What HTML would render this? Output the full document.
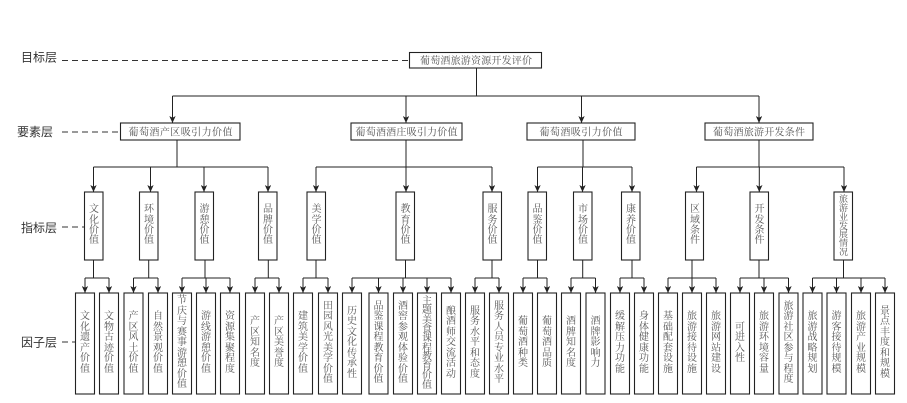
<!DOCTYPE html>
<html><head><meta charset="utf-8">
<style>
html,body{margin:0;padding:0;background:#fff;}
#c{position:relative;width:907px;height:403px;overflow:hidden;background:#fff;}
svg{position:absolute;left:0;top:0;}
.v{position:absolute;display:flex;align-items:center;justify-content:center;font-family:"Liberation Serif","Noto Serif CJK SC",serif;font-size:10px;color:#555;}
.v span{display:block;width:11px;word-break:break-all;text-align:center;line-height:10.5px;}
.f{top:293px;height:101px;width:19px;}
.i{top:192px;height:68px;width:19px;}
.i span{line-height:10.3px;}
</style></head><body>
<div id="c">
<svg width="907" height="403" viewBox="0 0 907 403">
<defs>
<marker id="a" viewBox="0 0 7 6.4" refX="7" refY="3.2" markerWidth="7" markerHeight="6.4" markerUnits="userSpaceOnUse" orient="auto">
<path d="M0,0 L7,3.2 L0,6.4 L1.8,3.2 Z" fill="#222"/>
</marker>
</defs>
<g font-family="'Liberation Sans','Noto Sans CJK SC',sans-serif" font-size="12" fill="#333">
<text x="21" y="61.5">目标层</text>
<text x="17" y="136">要素层</text>
<text x="21" y="232">指标层</text>
<text x="21" y="346.5">因子层</text>
</g>
<g stroke="#333" stroke-width="1" stroke-dasharray="6,4" fill="none">
<line x1="62" y1="60.5" x2="409" y2="60.5"/>
<line x1="62" y1="132" x2="120" y2="132"/>
<line x1="62" y1="227" x2="84" y2="227"/>
<line x1="62" y1="342" x2="75.5" y2="342"/>
</g>
<g stroke="#222" stroke-width="1.1" fill="#fff">
<rect x="409.5" y="52.5" width="132" height="15.5"/>
<rect x="120.5" y="123" width="119.5" height="17"/>
<rect x="351" y="123" width="111" height="17"/>
<rect x="527" y="123" width="108" height="17"/>
<rect x="705" y="123" width="108" height="17"/>
<rect x="84.5" y="192" width="18.5" height="68"/>
<rect x="139.5" y="192" width="18.5" height="68"/>
<rect x="195" y="192" width="18.5" height="68"/>
<rect x="258.5" y="192" width="18.5" height="68"/>
<rect x="307" y="192" width="18.5" height="68"/>
<rect x="396" y="192" width="18.5" height="68"/>
<rect x="483" y="192" width="18.5" height="68"/>
<rect x="528" y="192" width="18.5" height="68"/>
<rect x="573.5" y="192" width="18.5" height="68"/>
<rect x="621.5" y="192" width="18.5" height="68"/>
<rect x="685.5" y="192" width="18" height="68"/>
<rect x="750" y="192" width="18.5" height="68"/>
<rect x="834" y="192" width="18.5" height="68"/>
<rect x="75.5" y="293" width="19" height="101"/>
<rect x="99.5" y="293" width="19" height="101"/>
<rect x="124" y="293" width="19" height="101"/>
<rect x="148.5" y="293" width="19" height="101"/>
<rect x="172.5" y="293" width="19" height="101"/>
<rect x="196.5" y="293" width="19" height="101"/>
<rect x="220.5" y="293" width="19" height="101"/>
<rect x="245.5" y="293" width="19" height="101"/>
<rect x="269.5" y="293" width="19" height="101"/>
<rect x="293.5" y="293" width="19" height="101"/>
<rect x="318.5" y="293" width="19" height="101"/>
<rect x="342.5" y="293" width="19" height="101"/>
<rect x="369" y="293" width="19" height="101"/>
<rect x="393.5" y="293" width="19" height="101"/>
<rect x="417.5" y="293" width="19" height="101"/>
<rect x="441.5" y="293" width="19" height="101"/>
<rect x="465.5" y="293" width="19" height="101"/>
<rect x="489.5" y="293" width="19" height="101"/>
<rect x="513.5" y="293" width="19" height="101"/>
<rect x="537.5" y="293" width="19" height="101"/>
<rect x="561.5" y="293" width="19" height="101"/>
<rect x="586" y="293" width="19" height="101"/>
<rect x="610.5" y="293" width="19" height="101"/>
<rect x="634.5" y="293" width="19" height="101"/>
<rect x="658.5" y="293" width="19" height="101"/>
<rect x="682.5" y="293" width="19" height="101"/>
<rect x="706.5" y="293" width="19" height="101"/>
<rect x="730.5" y="293" width="19" height="101"/>
<rect x="754.5" y="293" width="19" height="101"/>
<rect x="779" y="293" width="19" height="101"/>
<rect x="803" y="293" width="19" height="101"/>
<rect x="827" y="293" width="19" height="101"/>
<rect x="851.5" y="293" width="19" height="101"/>
<rect x="875.5" y="293" width="19" height="101"/>
</g>
<g font-family="'Liberation Serif','Noto Serif CJK SC',serif" font-size="10" fill="#555" text-anchor="middle">
<text x="476" y="64" textLength="112" lengthAdjust="spacing">葡萄酒旅游资源开发评价</text>
<text x="180.5" y="135.5" textLength="104" lengthAdjust="spacing">葡萄酒产区吸引力价值</text>
<text x="406.5" y="135.5" textLength="102" lengthAdjust="spacing">葡萄酒酒庄吸引力价值</text>
<text x="581" y="135.5" textLength="83" lengthAdjust="spacing">葡萄酒吸引力价值</text>
<text x="759" y="135.5" textLength="92" lengthAdjust="spacing">葡萄酒旅游开发条件</text>
</g>
<g stroke="#222" stroke-width="1" fill="none">
<line x1="476.5" y1="68" x2="476.5" y2="96"/>
<line x1="172.5" y1="96" x2="759" y2="96"/>
<line x1="172.5" y1="96" x2="172.5" y2="123" marker-end="url(#a)"/>
<line x1="406" y1="96" x2="406" y2="123" marker-end="url(#a)"/>
<line x1="581.5" y1="96" x2="581.5" y2="123" marker-end="url(#a)"/>
<line x1="759" y1="96" x2="759" y2="123" marker-end="url(#a)"/>
<line x1="177" y1="140" x2="177" y2="167"/>
<line x1="406" y1="140" x2="406" y2="167"/>
<line x1="583" y1="140" x2="583" y2="167"/>
<line x1="759" y1="140" x2="759" y2="167"/>
<line x1="93.5" y1="167" x2="268" y2="167"/>
<line x1="316" y1="167" x2="492" y2="167"/>
<line x1="537.5" y1="167" x2="632" y2="167"/>
<line x1="696.5" y1="167" x2="844" y2="167"/>
<line x1="93.5" y1="167" x2="93.5" y2="192" marker-end="url(#a)"/>
<line x1="150.5" y1="167" x2="150.5" y2="192" marker-end="url(#a)"/>
<line x1="204" y1="167" x2="204" y2="192" marker-end="url(#a)"/>
<line x1="268" y1="167" x2="268" y2="192" marker-end="url(#a)"/>
<line x1="316" y1="167" x2="316" y2="192" marker-end="url(#a)"/>
<line x1="406" y1="167" x2="406" y2="192" marker-end="url(#a)"/>
<line x1="492" y1="167" x2="492" y2="192" marker-end="url(#a)"/>
<line x1="537.5" y1="167" x2="537.5" y2="192" marker-end="url(#a)"/>
<line x1="582.5" y1="167" x2="582.5" y2="192" marker-end="url(#a)"/>
<line x1="632" y1="167" x2="632" y2="192" marker-end="url(#a)"/>
<line x1="696.5" y1="167" x2="696.5" y2="192" marker-end="url(#a)"/>
<line x1="759.3" y1="167" x2="759.3" y2="192" marker-end="url(#a)"/>
<line x1="844" y1="167" x2="844" y2="192" marker-end="url(#a)"/>
<line x1="93.5" y1="260" x2="93.5" y2="278"/>
<line x1="148.7" y1="260" x2="148.7" y2="278"/>
<line x1="205" y1="260" x2="205" y2="278"/>
<line x1="268.3" y1="260" x2="268.3" y2="278"/>
<line x1="316" y1="260" x2="316" y2="278"/>
<line x1="405.5" y1="260" x2="405.5" y2="278"/>
<line x1="492" y1="260" x2="492" y2="278"/>
<line x1="537.5" y1="260" x2="537.5" y2="278"/>
<line x1="582.7" y1="260" x2="582.7" y2="278"/>
<line x1="632" y1="260" x2="632" y2="278"/>
<line x1="692" y1="260" x2="692" y2="278"/>
<line x1="759" y1="260" x2="759" y2="278"/>
<line x1="843.5" y1="260" x2="843.5" y2="278"/>
<line x1="85" y1="278" x2="109" y2="278"/>
<line x1="133.5" y1="278" x2="158" y2="278"/>
<line x1="182" y1="278" x2="230" y2="278"/>
<line x1="255" y1="278" x2="279" y2="278"/>
<line x1="303" y1="278" x2="328" y2="278"/>
<line x1="352" y1="278" x2="451" y2="278"/>
<line x1="475" y1="278" x2="499" y2="278"/>
<line x1="523" y1="278" x2="547" y2="278"/>
<line x1="571" y1="278" x2="595.5" y2="278"/>
<line x1="620" y1="278" x2="644" y2="278"/>
<line x1="668" y1="278" x2="716" y2="278"/>
<line x1="740" y1="278" x2="788.5" y2="278"/>
<line x1="812.5" y1="278" x2="885" y2="278"/>
<line x1="85" y1="278" x2="85" y2="293" marker-end="url(#a)"/>
<line x1="109" y1="278" x2="109" y2="293" marker-end="url(#a)"/>
<line x1="133.5" y1="278" x2="133.5" y2="293" marker-end="url(#a)"/>
<line x1="158" y1="278" x2="158" y2="293" marker-end="url(#a)"/>
<line x1="182" y1="278" x2="182" y2="293" marker-end="url(#a)"/>
<line x1="206" y1="278" x2="206" y2="293" marker-end="url(#a)"/>
<line x1="230" y1="278" x2="230" y2="293" marker-end="url(#a)"/>
<line x1="255" y1="278" x2="255" y2="293" marker-end="url(#a)"/>
<line x1="279" y1="278" x2="279" y2="293" marker-end="url(#a)"/>
<line x1="303" y1="278" x2="303" y2="293" marker-end="url(#a)"/>
<line x1="328" y1="278" x2="328" y2="293" marker-end="url(#a)"/>
<line x1="352" y1="278" x2="352" y2="293" marker-end="url(#a)"/>
<line x1="378.5" y1="278" x2="378.5" y2="293" marker-end="url(#a)"/>
<line x1="403" y1="278" x2="403" y2="293" marker-end="url(#a)"/>
<line x1="427" y1="278" x2="427" y2="293" marker-end="url(#a)"/>
<line x1="451" y1="278" x2="451" y2="293" marker-end="url(#a)"/>
<line x1="475" y1="278" x2="475" y2="293" marker-end="url(#a)"/>
<line x1="499" y1="278" x2="499" y2="293" marker-end="url(#a)"/>
<line x1="523" y1="278" x2="523" y2="293" marker-end="url(#a)"/>
<line x1="547" y1="278" x2="547" y2="293" marker-end="url(#a)"/>
<line x1="571" y1="278" x2="571" y2="293" marker-end="url(#a)"/>
<line x1="595.5" y1="278" x2="595.5" y2="293" marker-end="url(#a)"/>
<line x1="620" y1="278" x2="620" y2="293" marker-end="url(#a)"/>
<line x1="644" y1="278" x2="644" y2="293" marker-end="url(#a)"/>
<line x1="668" y1="278" x2="668" y2="293" marker-end="url(#a)"/>
<line x1="692" y1="278" x2="692" y2="293" marker-end="url(#a)"/>
<line x1="716" y1="278" x2="716" y2="293" marker-end="url(#a)"/>
<line x1="740" y1="278" x2="740" y2="293" marker-end="url(#a)"/>
<line x1="764" y1="278" x2="764" y2="293" marker-end="url(#a)"/>
<line x1="788.5" y1="278" x2="788.5" y2="293" marker-end="url(#a)"/>
<line x1="812.5" y1="278" x2="812.5" y2="293" marker-end="url(#a)"/>
<line x1="836.5" y1="278" x2="836.5" y2="293" marker-end="url(#a)"/>
<line x1="861" y1="278" x2="861" y2="293" marker-end="url(#a)"/>
<line x1="885" y1="278" x2="885" y2="293" marker-end="url(#a)"/>
</g>
</svg>

<div class="v i" style="left:84.5px"><span>文化价值</span></div>
<div class="v i" style="left:139.5px"><span>环境价值</span></div>
<div class="v i" style="left:195px"><span>游憩价值</span></div>
<div class="v i" style="left:258.5px"><span>品牌价值</span></div>
<div class="v i" style="left:307px"><span>美学价值</span></div>
<div class="v i" style="left:396px"><span>教育价值</span></div>
<div class="v i" style="left:483px"><span>服务价值</span></div>
<div class="v i" style="left:528px"><span>品鉴价值</span></div>
<div class="v i" style="left:573.5px"><span>市场价值</span></div>
<div class="v i" style="left:621.5px"><span>康养价值</span></div>
<div class="v i" style="left:685.5px"><span>区域条件</span></div>
<div class="v i" style="left:750px"><span>开发条件</span></div>
<div class="v i" style="left:834px;font-size:9px"><span style="width:10px;line-height:8.8px">旅游业发展情况</span></div>

<div class="v f" style="left:75.5px"><span>文化遗产价值</span></div>
<div class="v f" style="left:99.5px"><span>文物古迹价值</span></div>
<div class="v f" style="left:124px"><span>产区风土价值</span></div>
<div class="v f" style="left:148.5px"><span>自然景观价值</span></div>
<div class="v f" style="left:172.5px"><span>节庆与赛事游憩价值</span></div>
<div class="v f" style="left:196.5px"><span>游线游憩价值</span></div>
<div class="v f" style="left:220.5px"><span>资源集聚程度</span></div>
<div class="v f" style="left:245.5px"><span>产区知名度</span></div>
<div class="v f" style="left:269.5px"><span>产区美誉度</span></div>
<div class="v f" style="left:293.5px"><span>建筑美学价值</span></div>
<div class="v f" style="left:318.5px"><span>田园风光美学价值</span></div>
<div class="v f" style="left:342.5px"><span>历史文化传承性</span></div>
<div class="v f" style="left:369px"><span>品鉴课程教育价值</span></div>
<div class="v f" style="left:393.5px"><span>酒窖参观体验价值</span></div>
<div class="v f" style="left:417.5px"><span style="line-height:9.3px">主题美食课程教育价值</span></div>
<div class="v f" style="left:441.5px"><span>酿酒师交流活动</span></div>
<div class="v f" style="left:465.5px"><span>服务水平和态度</span></div>
<div class="v f" style="left:489.5px"><span>服务人员专业水平</span></div>
<div class="v f" style="left:513.5px"><span>葡萄酒种类</span></div>
<div class="v f" style="left:537.5px"><span>葡萄酒品质</span></div>
<div class="v f" style="left:561.5px"><span>酒牌知名度</span></div>
<div class="v f" style="left:586px"><span>酒牌影响力</span></div>
<div class="v f" style="left:610.5px"><span>缓解压力功能</span></div>
<div class="v f" style="left:634.5px"><span>身体健康功能</span></div>
<div class="v f" style="left:658.5px"><span>基础配套设施</span></div>
<div class="v f" style="left:682.5px"><span>旅游接待设施</span></div>
<div class="v f" style="left:706.5px"><span>旅游网站建设</span></div>
<div class="v f" style="left:730.5px"><span>可进入性</span></div>
<div class="v f" style="left:754.5px"><span>旅游环境容量</span></div>
<div class="v f" style="left:779px"><span>旅游社区参与程度</span></div>
<div class="v f" style="left:803px"><span>旅游战略规划</span></div>
<div class="v f" style="left:827px"><span>游客接待规模</span></div>
<div class="v f" style="left:851.5px"><span>旅游产业规模</span></div>
<div class="v f" style="left:875.5px"><span>景点丰度和规模</span></div>
</div>
</body></html>
